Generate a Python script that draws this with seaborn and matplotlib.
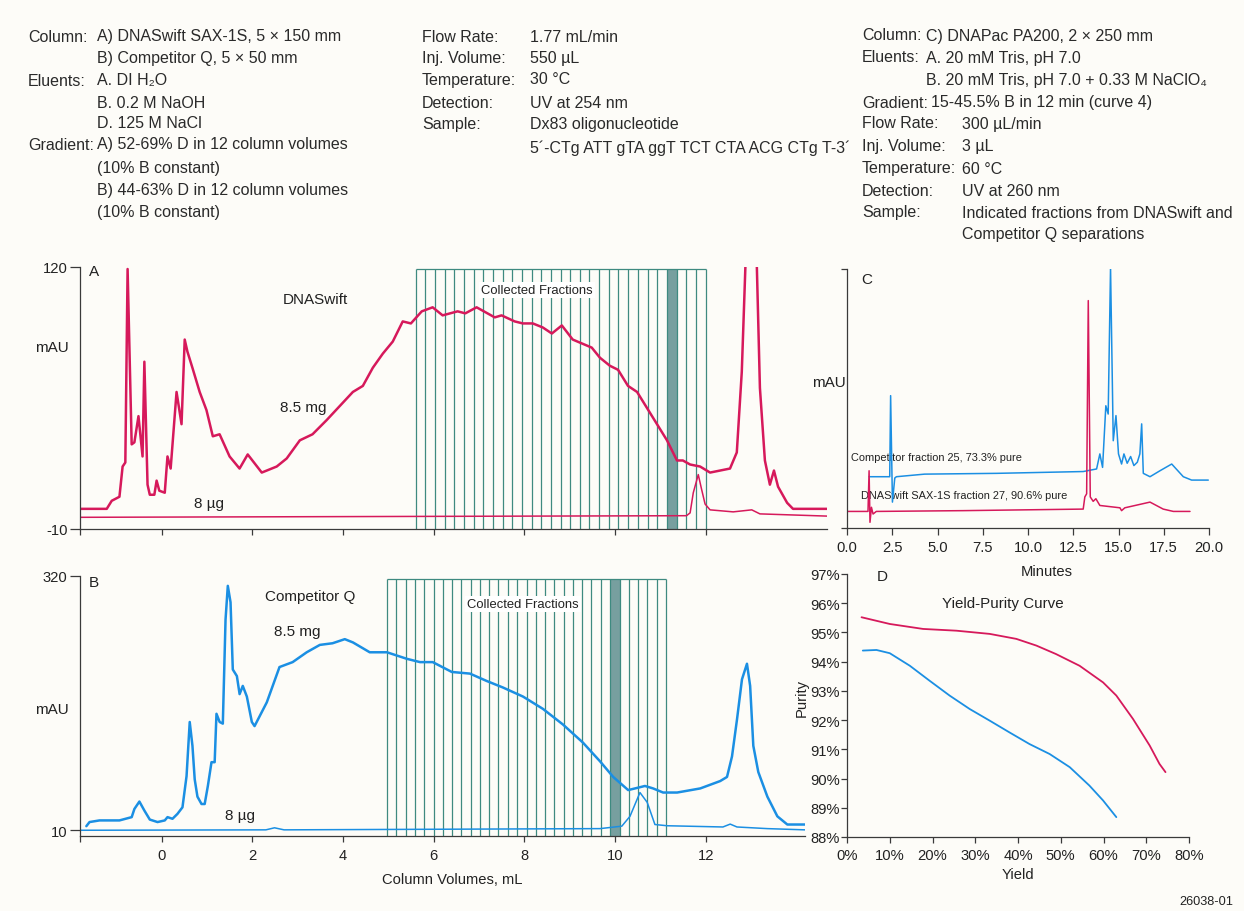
import numpy as np
import pandas as pd
import matplotlib
matplotlib.use("Agg")
import matplotlib.pyplot as plt
import seaborn as sns
from matplotlib import font_manager

# ---------------- data ----------------
# Panel A (DNASwift) - column volumes vs mAU
A_x_85mg = [-1.80, -1.21, -1.10, -0.93, -0.86, -0.80, -0.75, -0.66, -0.60, -0.51, -0.42, -0.38, -0.31, -0.26,
            -0.16, -0.11, -0.05, 0.07, 0.13, 0.20, 0.33, 0.44, 0.51, 0.57, 0.68, 0.84, 0.99, 1.13, 1.28, 1.50,
            1.72, 1.90, 2.21, 2.54, 2.76, 3.05, 3.33, 3.64, 3.93, 4.22, 4.44, 4.66, 4.88, 5.10, 5.32, 5.50,
            5.74, 5.98, 6.20, 6.53, 6.70, 6.95, 7.35, 7.50, 7.79, 7.97, 8.19, 8.41, 8.61, 8.83, 9.07, 9.49,
            9.67, 9.89, 10.07, 10.29, 10.49, 10.71, 10.93, 11.15, 11.37, 11.50, 11.66, 11.88, 12.10, 12.32,
            12.54, 12.69, 12.80, 12.91, 13.00, 13.11, 13.20, 13.31, 13.42, 13.51, 13.60, 13.80, 13.93, 14.68]
A_y_85mg = [0, 0, 4, 6, 21, 23, 119, 32, 33, 46, 26, 73, 12, 7,
            7, 14, 9, 8, 26, 20, 58, 42, 84, 78, 70, 58, 49, 36, 37, 26,
            20, 27, 18, 21, 25, 34, 37, 44, 51, 58, 61, 70, 77, 83, 93, 92,
            98, 100, 96, 98, 97, 100, 95, 96, 93, 92, 92, 90, 87, 91, 84, 80,
            75, 71, 69, 61, 58, 50, 42, 34, 24, 24, 22, 21, 18, 19,
            20, 28, 68, 140, 200, 140, 60, 24, 12, 19, 11, 3, 0, 0]
A_x_8ug = [-1.80, 11.58, 11.66, 11.73, 11.84, 11.91, 11.99, 12.10, 12.61, 13.02, 13.20, 14.68]
A_y_8ug = [-4.2, -3.4, -2.0, 8.0, 17.0, 10.0, 2.4, -0.5, -1.5, -0.5, -2.5, -3.6]
A_frac_edges = [5.61, 5.82, 6.04, 6.25, 6.46, 6.68, 6.89, 7.10, 7.31, 7.53, 7.74, 7.95, 8.17, 8.38, 8.59,
                8.81, 9.02, 9.23, 9.44, 9.66, 9.87, 10.08, 10.30, 10.51, 10.72, 10.94, 11.15, 11.36, 11.57,
                11.79, 12.00]
A_highlight = 27          # fraction analysed in panel C
A_yticks = [-10, 120]

# Panel B (Competitor Q)
B_x_85mg = [-1.66, -1.59, -1.37, -0.93, -0.66, -0.60, -0.49, -0.38, -0.26, -0.09, 0.07, 0.13, 0.24, 0.35,
            0.46, 0.55, 0.62, 0.68, 0.73, 0.79, 0.88, 0.95, 1.02, 1.10, 1.17, 1.21, 1.28, 1.35, 1.41, 1.46,
            1.52, 1.57, 1.66, 1.72, 1.79, 1.88, 1.99, 2.05, 2.32, 2.60, 2.89, 3.20, 3.49, 3.77, 4.04, 4.22,
            4.59, 4.97, 5.41, 5.70, 5.98, 6.40, 6.80, 7.17, 7.53, 7.97, 8.41, 8.85, 9.29, 9.67, 9.96, 10.29,
            10.44, 10.66, 10.84, 11.06, 11.37, 11.88, 12.32, 12.47, 12.58, 12.69, 12.80, 12.91, 12.98, 13.05,
            13.16, 13.36, 13.58, 13.80, 14.19]
B_y_85mg = [15, 20, 22, 22, 26, 36, 45, 34, 23, 20, 22, 26, 24, 30,
            38, 76, 142, 113, 72, 51, 42, 42, 64, 93, 93, 152, 142, 140, 267, 308,
            288, 206, 198, 176, 186, 173, 142, 137, 166, 209, 215, 227, 236, 238, 243, 239,
            227, 227, 219, 215, 215, 203, 201, 192, 184, 173, 158, 139, 117, 94, 75, 59,
            61, 64, 61, 56, 56, 61, 70, 75, 100, 145, 194, 213, 186, 113,
            81, 51, 27, 17, 17]
B_x_8ug = [-1.80, 2.30, 2.49, 2.70, 9.67, 10.15, 10.33, 10.55, 10.71, 10.88, 11.15, 12.38, 12.54, 12.69, 13.36, 14.19]
B_y_8ug = [10.0, 10.5, 13.0, 10.5, 12.0, 15.0, 27.0, 56.0, 44.0, 17.0, 15.5, 14.0, 17.5, 14.0, 12.0, 10.5]
B_frac_edges = [4.97, 5.18, 5.38, 5.59, 5.79, 6.00, 6.20, 6.41, 6.61, 6.82, 7.02, 7.23, 7.43, 7.64, 7.84,
                8.05, 8.25, 8.46, 8.66, 8.87, 9.07, 9.28, 9.48, 9.69, 9.89, 10.10, 10.30, 10.51, 10.71,
                10.92, 11.12]
B_highlight = 25
B_yticks = [10, 320]
AB_xticks = [0, 2, 4, 6, 8, 10, 12]

# Panel C (DNAPac PA200 analysis) - minutes vs relative mAU
C_red_x = [0.00, 1.16, 1.22, 1.27, 1.35, 1.44, 1.62, 6.41, 13.05, 13.14, 13.24, 13.33, 13.44, 13.60, 13.75,
           13.97, 15.08, 15.17, 15.35, 16.74, 17.47, 18.03, 18.95]
C_red_y = [6.4, 6.4, 22.1, 2.2, 8.0, 5.4, 6.4, 6.7, 7.3, 12.0, 13.2, 87.8, 12.0, 10.3, 11.3,
           8.7, 7.8, 6.7, 7.8, 10.0, 7.3, 6.4, 6.4]
C_blue_x = [1.22, 2.36, 2.41, 2.51, 2.64, 2.73, 4.29, 8.26, 13.05, 13.79, 13.97, 14.12, 14.30, 14.43, 14.56,
            14.71, 14.86, 15.00, 15.17, 15.30, 15.48, 15.67, 15.85, 16.04, 16.18, 16.28, 16.37, 16.74,
            17.29, 17.94, 18.58, 19.04, 19.96]
C_blue_y = [19.8, 19.8, 51.1, 10.0, 19.3, 19.8, 20.8, 21.1, 21.8, 22.8, 28.6, 23.4, 47.2, 44.0, 100.6,
            33.7, 43.4, 28.6, 24.7, 28.6, 25.0, 27.6, 24.1, 25.4, 28.6, 40.2, 21.1, 19.8,
            22.1, 24.7, 19.8, 18.5, 18.5]
C_xticks = [0.0, 2.5, 5.0, 7.5, 10.0, 12.5, 15.0, 17.5, 20.0]

# Panel D (yield-purity)
D_red_x = [3.4, 10.0, 17.8, 25.6, 33.4, 39.6, 44.3, 48.9, 54.4, 59.9, 63.0, 66.9, 70.8, 73.1, 74.5]
D_red_y = [95.52, 95.29, 95.12, 95.06, 94.95, 94.78, 94.55, 94.26, 93.86, 93.29, 92.84, 92.04, 91.13, 90.50, 90.22]
D_blue_x = [3.7, 6.9, 10.0, 14.7, 19.3, 24.0, 28.7, 33.4, 38.0, 42.7, 47.4, 52.1, 56.7, 59.9, 63.0]
D_blue_y = [94.38, 94.40, 94.29, 93.86, 93.35, 92.84, 92.38, 91.98, 91.58, 91.18, 90.84, 90.39, 89.76, 89.25, 88.68]
D_xticks = [0, 10, 20, 30, 40, 50, 60, 70, 80]
D_yticks = [88, 89, 90, 91, 92, 93, 94, 95, 96, 97]

# Header text
HDR1_KEYS = ["Column:", "", "Eluents:", "", "", "Gradient:", "", "", ""]
HDR1_VALS = ["A) DNASwift SAX-1S, 5 × 150 mm", "B) Competitor Q, 5 × 50 mm", "A. DI H₂O", "B. 0.2 M NaOH",
             "D. 125 M NaCl", "A) 52-69% D in 12 column volumes", "(10% B constant)",
             "B) 44-63% D in 12 column volumes", "(10% B constant)"]
HDR2_KEYS = ["Flow Rate:", "Inj. Volume:", "Temperature:", "Detection:", "Sample:", ""]
HDR2_VALS = ["1.77 mL/min", "550 µL", "30 °C", "UV at 254 nm", "Dx83 oligonucleotide",
             "5´-CTg ATT gTA ggT TCT CTA ACG CTg T-3´"]
HDR3_KEYS = ["Column:", "Eluents:", "", "Gradient:", "Flow Rate:", "Inj. Volume:", "Temperature:",
             "Detection:", "Sample:", ""]
HDR3_VALS = ["C) DNAPac PA200, 2 × 250 mm", "A. 20 mM Tris, pH 7.0", "B. 20 mM Tris, pH 7.0 + 0.33 M NaClO₄",
             "15-45.5% B in 12 min (curve 4)", "300 µL/min", "3 µL", "60 °C", "UV at 260 nm",
             "Indicated fractions from DNASwift and", "Competitor Q separations"]

# ---------------- style ----------------
sns.set_theme(style="ticks")
_names = {f.name for f in font_manager.fontManager.ttflist}
if "Liberation Sans Narrow" in _names:
    NARROW = ["Liberation Sans Narrow", "DejaVu Sans"]
    K = 1.0
else:
    NARROW = ["Liberation Sans", "DejaVu Sans"]
    K = 0.82
REG = ["Liberation Sans", "DejaVu Sans"]
plt.rcParams["font.family"] = NARROW
plt.rcParams["axes.unicode_minus"] = False

BG = "#fdfcf8"
RED = "#d6195b"
BLUE = "#1b8fe3"
FRAC = "#3e8a80"
BAND = "#779f9f"
SPINE = "#3a3a3a"
TXT = "#222222"
HTXT = "#2a2a2a"
W, H = 1244, 912

fig = plt.figure(figsize=(W / 100, H / 100), dpi=100, facecolor=BG)


def px_axes(l, t, r, b):
    ax = fig.add_axes([l / W, 1 - b / H, (r - l) / W, (b - t) / H])
    ax.set_facecolor("none")
    return ax


def ftext(x, y, s, va="center", **kw):
    kw.setdefault("color", TXT)
    fig.text(x / W, 1 - y / H, s, va=va, **kw)


def style_axes(ax):
    sns.despine(ax=ax)
    for sp in ("left", "bottom"):
        ax.spines[sp].set_color(SPINE)
        ax.spines[sp].set_linewidth(0.9)
    ax.tick_params(colors=SPINE, labelcolor=TXT, width=0.9)


def line(ax, x, y, color, lw):
    sns.lineplot(x=x, y=y, ax=ax, color=color, linewidth=lw, estimator=None, sort=False)


def fractions(ax, edges, top, hl, tx, ty):
    lo, hi = ax.get_ylim()
    ax.axvspan(edges[hl - 1], edges[hl], ymin=0, ymax=(top - lo) / (hi - lo), color=BAND, lw=0, zorder=1)
    ax.vlines(edges, lo, top, color=FRAC, lw=0.9, zorder=1.5)
    ax.hlines(top, edges[0], edges[-1], color=FRAC, lw=0.9, zorder=1.5)
    ax.text(tx, ty, "Collected Fractions", ha="center", va="center", fontsize=11.4 * K, color=TXT,
            zorder=4, bbox=dict(fc="white", ec="none", pad=1.5))


# ---------------- header (baseline aligned) ----------------
HFS = 11.5
BL = 5.5
for k, v, y in zip(HDR1_KEYS, HDR1_VALS, [36, 57, 80, 102, 123, 144, 167, 190, 212]):
    ftext(28, y + BL, k, va="baseline", fontsize=HFS, family=REG, color=HTXT)
    ftext(97, y + BL, v, va="baseline", fontsize=HFS, family=REG, color=HTXT)
for k, v, y in zip(HDR2_KEYS, HDR2_VALS, [36, 57, 79, 102, 124, 147]):
    ftext(422, y + BL, k, va="baseline", fontsize=HFS, family=REG, color=HTXT)
    ftext(530, y + BL, v, va="baseline", fontsize=HFS, family=REG, color=HTXT)
for k, v, y, vx in zip(HDR3_KEYS, HDR3_VALS, [35, 57, 79, 102, 123, 146, 168, 190, 212, 233],
                       [926, 926, 926, 931, 962, 962, 962, 962, 962, 962]):
    ftext(862, y + BL, k, va="baseline", fontsize=HFS, family=REG, color=HTXT)
    ftext(vx, y + BL, v, va="baseline", fontsize=HFS, family=REG, color=HTXT)

FS = 13 * K

# ---------------- panel A ----------------
axA = px_axes(80, 268, 827, 530)
axA.set_xlim(-1.8, 14.68)
axA.set_ylim(-10, 120)
fractions(axA, A_frac_edges, 119, A_highlight, 8.28, 108.6)
line(axA, A_x_85mg, A_y_85mg, RED, 1.8)
line(axA, A_x_8ug, A_y_8ug, RED, 1.1)
style_axes(axA)
axA.set_xticks([-1.8] + AB_xticks)
axA.set_xticklabels([])
axA.tick_params(axis="x", length=4.5)
axA.set_yticks(A_yticks)
axA.set_yticklabels([str(v) for v in A_yticks], fontsize=FS)
axA.tick_params(axis="y", length=7, pad=2)
axA.set_xlabel("")
axA.set_ylabel("")
axA.text(-1.61, 118, "A", fontsize=FS * 1.03, ha="left", va="center", color=TXT)
axA.text(3.39, 104, "DNASwift", fontsize=13.4 * K, ha="center", va="center", color=TXT)
axA.text(3.13, 50.6, "8.5 mg", fontsize=13.4 * K, ha="center", va="center", color=TXT)
axA.text(1.04, 3.0, "8 µg", fontsize=13.4 * K, ha="center", va="center", color=TXT)
ftext(52, 348, "mAU", fontsize=13.4 * K, ha="center")

# ---------------- panel B ----------------
axB = px_axes(80, 577, 805, 837)
axB.set_xlim(-1.8, 14.19)
axB.set_ylim(3, 320)
fractions(axB, B_frac_edges, 316, B_highlight, 7.97, 285.7)
line(axB, B_x_85mg, B_y_85mg, BLUE, 1.8)
line(axB, B_x_8ug, B_y_8ug, BLUE, 1.1)
style_axes(axB)
axB.set_xticks([-1.8] + AB_xticks)
axB.set_xticklabels([""] + [str(v) for v in AB_xticks], fontsize=FS)
axB.tick_params(axis="x", length=4.5, pad=4)
axB.set_yticks(B_yticks)
axB.set_yticklabels([str(v) for v in B_yticks], fontsize=FS)
axB.tick_params(axis="y", length=7, pad=2)
axB.set_ylabel("")
axB.set_xlabel("Column Volumes, mL", fontsize=FS, color=TXT)
axB.xaxis.label.set_va("center")
axB.xaxis.set_label_coords((452 - 80) / 725, -(880 - 837) / 260)
axB.text(-1.61, 312.6, "B", fontsize=FS * 1.03, ha="left", va="center", color=TXT)
axB.text(3.28, 295.5, "Competitor Q", fontsize=13.4 * K, ha="center", va="center", color=TXT)
axB.text(3.0, 252.8, "8.5 mg", fontsize=13.4 * K, ha="center", va="center", color=TXT)
axB.text(1.72, 28, "8 µg", fontsize=13.4 * K, ha="center", va="center", color=TXT)
ftext(52, 710, "mAU", fontsize=13.4 * K, ha="center")

# ---------------- panel C ----------------
axC = px_axes(847, 270, 1209, 529)
axC.set_xlim(0, 20)
axC.set_ylim(0, 100)
axC.text(0.22, 27.4, "Competitor fraction 25, 73.3% pure", fontsize=9.7 * K, ha="left", va="center",
         color=TXT, zorder=1)
axC.text(0.77, 12.7, "DNASwift SAX-1S fraction 27, 90.6% pure", fontsize=9.7 * K, ha="left", va="center",
         color=TXT, zorder=1)
line(axC, C_blue_x, C_blue_y, BLUE, 1.1)
line(axC, C_red_x, C_red_y, RED, 1.1)
style_axes(axC)
axC.set_xticks(C_xticks)
axC.set_xticklabels([f"{v:.1f}" for v in C_xticks], fontsize=FS)
axC.tick_params(axis="x", length=5, pad=4)
axC.set_yticks([0, 100])
axC.set_yticklabels([])
axC.tick_params(axis="y", length=4)
axC.set_ylabel("")
axC.set_xlabel("Minutes", fontsize=FS, color=TXT)
axC.xaxis.label.set_va("center")
axC.xaxis.set_label_coords((1047 - 847) / 362, -(572 - 529) / 259)
axC.text(1.1, 96, "C", fontsize=FS * 1.03, ha="center", va="center", color=TXT)
axC.text(-0.003, 0.564, "mAU", transform=axC.transAxes, fontsize=13.4 * K, ha="right", va="center",
         color=TXT)

# ---------------- panel D ----------------
axD = px_axes(847, 575, 1189, 838)
axD.set_xlim(0, 80)
axD.set_ylim(88, 97)
line(axD, D_red_x, D_red_y, RED, 1.3)
line(axD, D_blue_x, D_blue_y, BLUE, 1.3)
style_axes(axD)
axD.set_xticks(D_xticks)
axD.set_xticklabels([f"{v}%" for v in D_xticks], fontsize=FS)
axD.set_yticks(D_yticks)
axD.set_yticklabels([f"{v}%" for v in D_yticks], fontsize=FS)
axD.tick_params(axis="x", length=4, pad=4)
axD.tick_params(axis="y", length=4, pad=1)
axD.set_xlabel("Yield", fontsize=FS, color=TXT)
axD.xaxis.label.set_va("center")
axD.xaxis.set_label_coords(0.5, -(875 - 838) / 263)
axD.set_ylabel("Purity", fontsize=FS, color=TXT)
axD.yaxis.label.set_va("center")
axD.yaxis.set_label_coords(-(847 - 802) / 342, (838 - 698) / 263)
axD.text(8.2, 96.93, "D", fontsize=FS * 1.03, ha="center", va="center", color=TXT)
axD.text(36.4, 96.0, "Yield-Purity Curve", fontsize=13.3 * K, ha="center", va="center", color=TXT)

ftext(1233, 902, "26038-01", fontsize=11.2 * K, ha="right")

fig.savefig("out.png", dpi=100, facecolor=BG)
